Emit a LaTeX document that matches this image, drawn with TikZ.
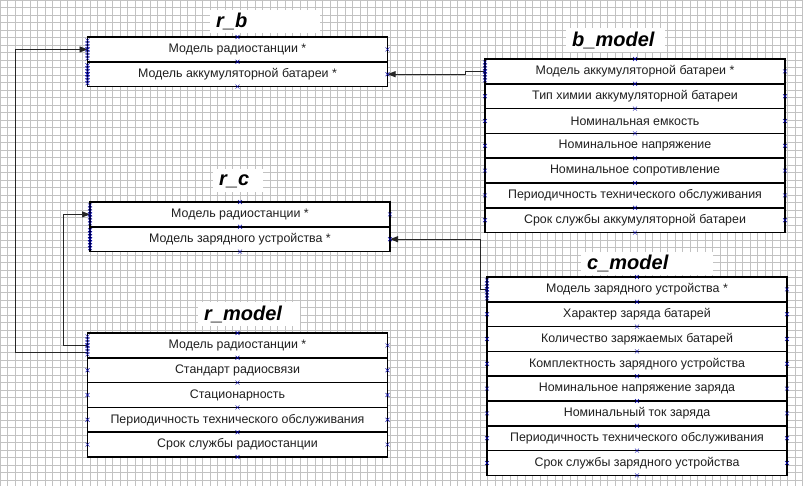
\documentclass[tikz,border=0pt]{standalone}
\usepackage{fontspec}
\setmainfont{Liberation Sans}
\usetikzlibrary{arrows.meta,positioning,shapes.misc}

\begin{document}
\begin{tikzpicture}[x=1pt,y=-1pt,
			every node/.style={font=\fontsize{12.4}{14}\selectfont},
			gridline/.style={draw=black!24,line width=0.55pt},
			field/.style={draw,line width=1.7pt,fill=white,text=black!88,
				minimum width=300pt,minimum height=24.8pt,inner sep=0pt,outer sep=0pt},
			tabname/.style={fill=white,anchor=west,align=left,inner xsep=6pt,
				minimum height=23pt,font=\fontsize{20}{23}\selectfont\bfseries\itshape},
			link/.style={draw=black!85,line width=0.9pt,-{Triangle[length=8pt,width=6pt]}},
			handle/.style={cross out,draw=blue!65!black,line width=0.45pt,
				minimum size=3.5pt,inner sep=0pt}]

	\useasboundingbox (0,0) rectangle (803,486);
	\fill[white] (0,0) rectangle (803,486);
	\foreach \i in {0,...,107} \draw[gridline] (7.5*\i,0) -- (7.5*\i,486);
	\foreach \j in {0,...,64} \draw[gridline] (0,7.5*\j) -- (803,7.5*\j);

	% tables
	\coordinate (rb0) at (237.5,37);
	\coordinate (rc0) at (240,202);
	\coordinate (rm0) at (237.5,333);
	\coordinate (bm0) at (635,59);
	\coordinate (cm0) at (637,277);

	\foreach [count=\k, remember=\k as \p (initially 0)] \txt in
		{Модель радиостанции *, Модель аккумуляторной батареи *}
		\node[field, below=0pt of rb\p] (rb\k) {\txt};
	\foreach [count=\k, remember=\k as \p (initially 0)] \txt in
		{Модель радиостанции *, Модель зарядного устройства *}
		\node[field, below=0pt of rc\p] (rc\k) {\txt};
	\foreach [count=\k, remember=\k as \p (initially 0)] \txt in
		{Модель радиостанции *, Стандарт радиосвязи, Стационарность,
		 Периодичность технического обслуживания, Срок службы радиостанции}
		\node[field, below=0pt of rm\p] (rm\k) {\txt};
	\foreach [count=\k, remember=\k as \p (initially 0)] \txt in
		{Модель аккумуляторной батареи *, Тип химии аккумуляторной батареи,
		 Номинальная емкость, Номинальное напряжение, Номинальное сопротивление,
		 Периодичность технического обслуживания, Срок службы аккумуляторной батареи}
		\node[field, below=0pt of bm\p] (bm\k) {\txt};
	\foreach [count=\k, remember=\k as \p (initially 0)] \txt in
		{Модель зарядного устройства *, Характер заряда батарей,
		 Количество заряжаемых батарей, Комплектность зарядного устройства,
		 Номинальное напряжение заряда, Номинальный ток заряда,
		 Периодичность технического обслуживания, Срок службы зарядного устройства}
		\node[field, below=0pt of cm\p] (cm\k) {\txt};

	% table names
	\node[tabname, text width=98pt] (rbname) at (210,21.5) {r\_b};
	\node[tabname, text width=38pt] (rcname) at (213,181) {r\_c};
	\node[tabname, text width=90pt] (rmname) at (198,314) {r\_model};
	\node[tabname, text width=87pt] (bmname) at (566,40) {b\_model};
	\node[tabname, text width=120pt] (cmname) at (581,263.5) {c\_model};

	% links
	\draw[link] ([yshift=-7pt]rm1.west) -- ++(-72,0) |- (rb1.west);
	\draw[link] (rm1.west) -- ++(-24,0) |- (rc1.west);
	\draw[link] (bm1.west) -- ++(-20,0) |- (rb2.east);
	\draw[link] (cm1.west) -- ++(-7,0) |- (rc2.east);

	% selection handles
	\foreach \t/\n in {rb/2, rc/2, rm/5, bm/7, cm/8} {
		\foreach \k in {1,...,\n} {
			\node[handle] at (\t\k.west) {};
			\node[handle] at (\t\k.east) {};
			\node[handle] at (\t\k.north) {};
		}
		\node[handle] at (\t\n.south) {};
	}
	\foreach \r in {rb1, rb2, rc1, rc2, rm1, bm1, cm1}
		\foreach \d in {-9,-6,...,9}
			\node[handle] at ([yshift=\d]\r.west) {};
\end{tikzpicture}
\end{document}
